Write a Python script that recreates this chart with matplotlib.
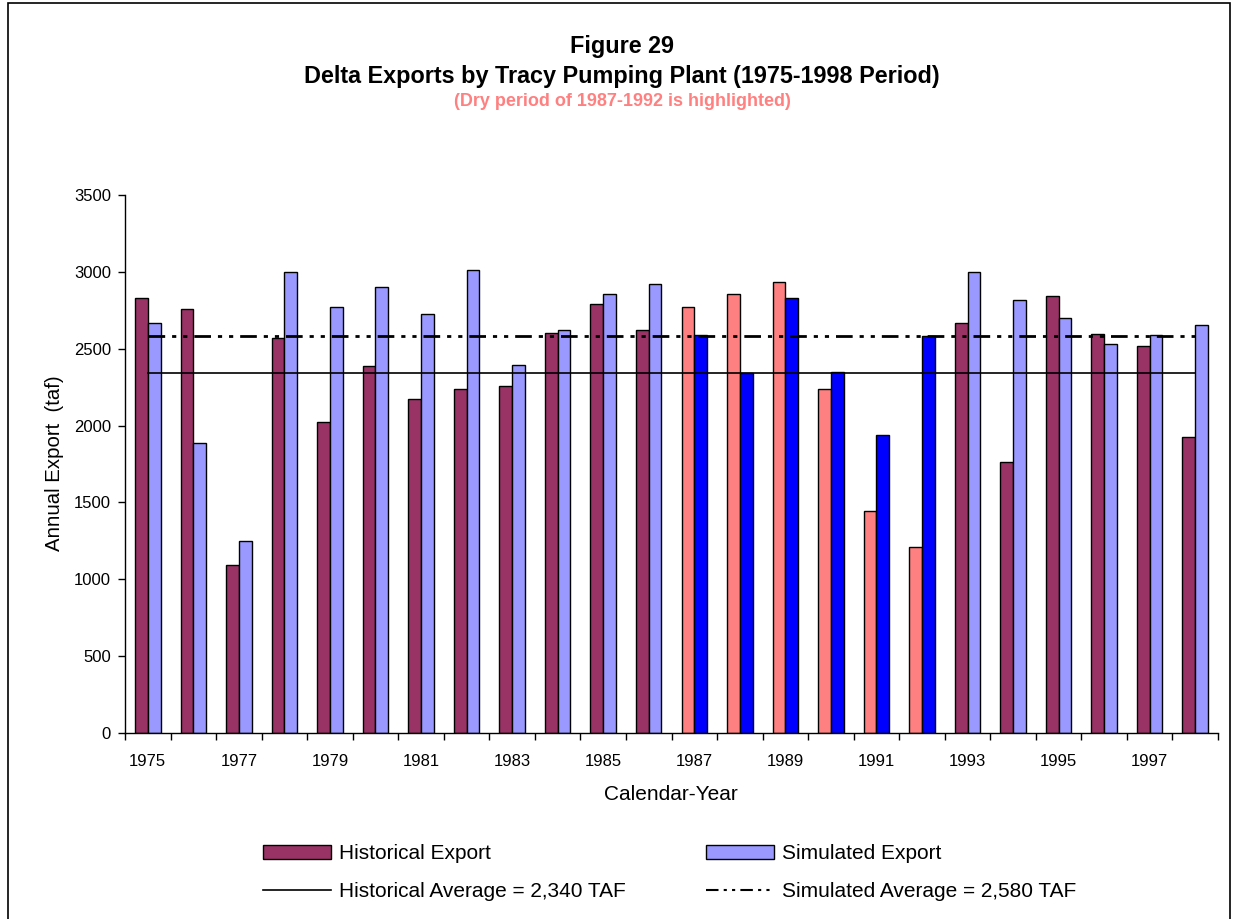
import matplotlib
matplotlib.use("Agg")
import matplotlib.pyplot as plt
from matplotlib.patches import Patch, Rectangle
from matplotlib.lines import Line2D
import numpy as np

plt.rcParams['font.family'] = ['Liberation Sans', 'DejaVu Sans']

years = list(range(1975, 1999))
historical = [2830, 2760, 1095, 2570, 2025, 2385, 2175, 2240, 2255, 2605, 2790, 2625,
              2770, 2855, 2935, 2235, 1446, 1212, 2670, 1765, 2845, 2595, 2515, 1925]
simulated = [2670, 1888, 1249, 3000, 2770, 2900, 2725, 3010, 2395, 2625, 2855, 2920,
             2588, 2340, 2827, 2347, 1941, 2580, 3000, 2815, 2698, 2533, 2588, 2652]
dry_years = [1987, 1988, 1989, 1990, 1991, 1992]
hist_avg = 2340
sim_avg = 2580
title1 = "Figure 29"
title2 = "Delta Exports by Tracy Pumping Plant (1975-1998 Period)"
subtitle = "(Dry period of 1987-1992 is highlighted)"

C_HIST = '#993366'
C_SIM = '#9999FF'
C_HIST_DRY = '#FF8080'
C_SIM_DRY = '#0000FF'

W, H = 1235, 919
fig = plt.figure(figsize=(W / 100, H / 100), dpi=100)
ax = fig.add_axes([125 / W, 1 - 733 / H, (1218 - 125) / W, (733 - 195) / H])

x = np.arange(len(years))
bw = 0.28
hc = [C_HIST_DRY if y in dry_years else C_HIST for y in years]
sc = [C_SIM_DRY if y in dry_years else C_SIM for y in years]
ax.bar(x - bw / 2, historical, width=bw, color=hc, edgecolor='black', linewidth=1.0, zorder=2)
ax.bar(x + bw / 2, simulated, width=bw, color=sc, edgecolor='black', linewidth=1.0, zorder=2)

dashdotdot = (0, (6, 2.5, 1.5, 2.5, 1.5, 2.5))
ax.plot(x, [hist_avg] * len(x), color='black', linewidth=1.2, zorder=3)
ax.plot(x, [sim_avg] * len(x), color='black', linewidth=2.0, linestyle=dashdotdot, zorder=3)

ax.set_xlim(-0.5, len(years) - 0.5)
ax.set_ylim(0, 3500)
ax.set_yticks(np.arange(0, 3501, 500))
ax.tick_params(axis='y', direction='out', length=5, width=1, labelsize=12, pad=5)

ax.set_xticks(np.arange(-0.5, len(years), 1.0))
ax.set_xticklabels([])
ax.tick_params(axis='x', which='major', direction='out', length=5, width=1)
ax.set_xticks(x[::2], minor=True)
ax.set_xticklabels([str(y) for y in years[::2]], minor=True)
ax.tick_params(axis='x', which='minor', length=0, labelsize=12, pad=15)

for s in ['top', 'right']:
    ax.spines[s].set_visible(False)
for s in ['left', 'bottom']:
    ax.spines[s].set_linewidth(1.0)

fig.text(55 / W, 1 - 463 / H, "Annual Export  (taf)", rotation=90, ha='center', va='center', fontsize=14.7)
fig.text(671 / W, 1 - 795 / H, "Calendar-Year", ha='center', va='center', fontsize=15)

fig.text(622 / W, 1 - 46 / H, title1, ha='center', va='center', fontsize=16.8, fontweight='bold')
fig.text(622 / W, 1 - 76 / H, title2, ha='center', va='center', fontsize=16.8, fontweight='bold')
fig.text(622 / W, 1 - 102 / H, subtitle, ha='center', va='center', fontsize=13, fontweight='bold', color=C_HIST_DRY)

handles = [Patch(facecolor=C_HIST, edgecolor='black', linewidth=1.0),
           Line2D([], [], color='black', linewidth=1.2),
           Patch(facecolor=C_SIM, edgecolor='black', linewidth=1.0),
           Line2D([], [], color='black', linewidth=1.5, linestyle=dashdotdot)]
labels = ["Historical Export", "Historical Average = 2,340 TAF",
          "Simulated Export", "Simulated Average = 2,580 TAF"]
fig.legend(handles, labels, ncol=2, loc='center', bbox_to_anchor=(670 / W, 1 - 872.5 / H),
           frameon=False, fontsize=15, handlelength=3.27, handleheight=0.65,
           handletextpad=0.38, columnspacing=3.85, labelspacing=0.9)

fig.patches.append(Rectangle((8 / W, -0.05), (1230 - 8) / W, 1.05 - 3 / H,
                             transform=fig.transFigure, fill=False, edgecolor='black', linewidth=1.2))

fig.savefig("out.png", dpi=100, facecolor='white')
